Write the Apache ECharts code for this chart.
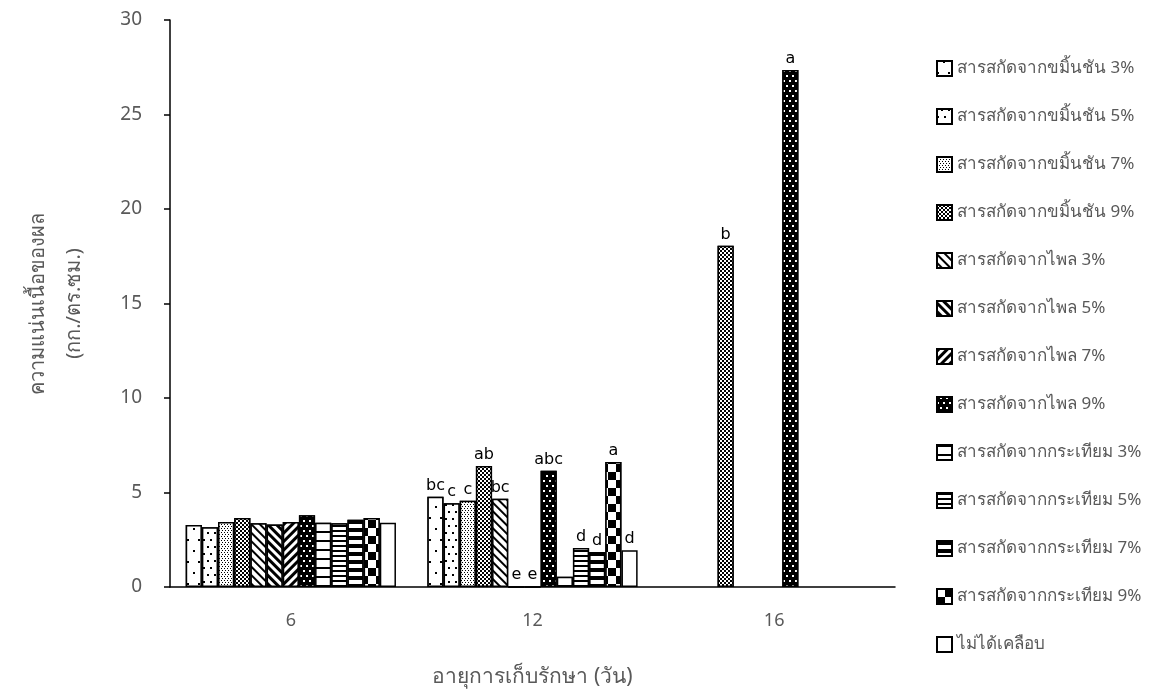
<!DOCTYPE html>
<html>
<head>
<meta charset="utf-8">
<style>
    html, body { margin: 0; padding: 0; background: #fff; }
    #chart { width: 1155px; height: 693px; }
</style>
<script src="https://cdn.jsdelivr.net/npm/echarts@6/dist/echarts.min.js"></script>
</head>
<body>
<div id="chart"></div>
<script>
    // ข้อมูลของกราฟ
    var categories = ['6', '12', '16'];
    var seriesNames = [
        'สารสกัดจากขมิ้นชัน 3%', 'สารสกัดจากขมิ้นชัน 5%', 'สารสกัดจากขมิ้นชัน 7%', 'สารสกัดจากขมิ้นชัน 9%',
        'สารสกัดจากไพล 3%', 'สารสกัดจากไพล 5%', 'สารสกัดจากไพล 7%', 'สารสกัดจากไพล 9%',
        'สารสกัดจากกระเทียม 3%', 'สารสกัดจากกระเทียม 5%', 'สารสกัดจากกระเทียม 7%', 'สารสกัดจากกระเทียม 9%',
        'ไม่ได้เคลือบ'
    ];
    var turmeric3 = [3.28, 4.78, null];
    var turmeric5 = [3.16, 4.43, null];
    var turmeric7 = [3.44, 4.57, null];
    var turmeric9 = [3.65, 6.40, 18.05];
    var plai3 = [3.37, 4.67, null];
    var plai5 = [3.31, 0, null];
    var plai7 = [3.44, 0, null];
    var plai9 = [3.79, 6.15, 27.35];
    var garlic3 = [3.40, 0.54, null];
    var garlic5 = [3.37, 2.06, null];
    var garlic7 = [3.56, 1.85, null];
    var garlic9 = [3.65, 6.61, null];
    var uncoated = [3.40, 1.94, null];
    var values = [turmeric3, turmeric5, turmeric7, turmeric9, plai3, plai5, plai7, plai9,
                  garlic3, garlic5, garlic7, garlic9, uncoated];

    // ตัวอักษรแสดงความแตกต่างทางสถิติ
    var letters = [
        ['', 'bc', ''], ['', 'c', ''], ['', 'c', ''], ['', 'ab', 'b'],
        ['', 'bc', ''], ['', 'e', ''], ['', 'e', ''], ['', 'abc', 'a'],
        ['', '', ''], ['', 'd', ''], ['', 'd', ''], ['', 'a', ''],
        ['', 'd', '']
    ];
    var yTicks = [0, 5, 10, 15, 20, 25, 30];

    // ลวดลายของแต่ละแท่ง
    var d45 = Math.PI / 4;
    var decals = [
        { color: '#000', backgroundColor: '#fff', dashArrayX: [[2, 9], [0, 6, 2, 3]], dashArrayY: [2, 9] },
        { color: '#000', backgroundColor: '#fff', dashArrayX: [[2, 5], [0, 4, 2, 1]], dashArrayY: [2, 5] },
        { color: '#000', backgroundColor: '#fff', dashArrayX: [[1, 2], [0, 2, 1, 0]], dashArrayY: [1, 1] },
        { color: '#000', backgroundColor: '#fff', dashArrayX: [[2, 2], [0, 2, 2, 0]], dashArrayY: [2, 0] },
        { color: '#000', backgroundColor: '#fff', dashArrayX: [1, 0], dashArrayY: [1.5, 3.5], rotation: d45 },
        { color: '#000', backgroundColor: '#fff', dashArrayX: [1, 0], dashArrayY: [3, 3], rotation: d45 },
        { color: '#000', backgroundColor: '#fff', dashArrayX: [1, 0], dashArrayY: [3, 3], rotation: -d45 },
        { color: '#fff', backgroundColor: '#000', dashArrayX: [[2, 4], [0, 3, 2, 1]], dashArrayY: [2, 3] },
        { color: '#000', backgroundColor: '#fff', dashArrayX: [1, 0], dashArrayY: [2, 7] },
        { color: '#000', backgroundColor: '#fff', dashArrayX: [1, 0], dashArrayY: [1.5, 2.5] },
        { color: '#000', backgroundColor: '#fff', dashArrayX: [1, 0], dashArrayY: [3.5, 4] },
        { color: '#000', backgroundColor: '#fff', dashArrayX: [[8, 8], [0, 8, 8, 0]], dashArrayY: [8, 0] },
        null
    ];

    var txtFont = "'Noto Sans', 'DejaVu Sans', sans-serif";

    var series = [];
    for (var i = 0; i < seriesNames.length; i++) {
        var data = [];
        for (var j = 0; j < categories.length; j++) {
            var item = { value: values[i][j] };
            if (letters[i][j]) {
                item.label = { show: true, formatter: letters[i][j] };
            }
            data.push(item);
        }
        var itemStyle = { color: '#fff', borderColor: '#000', borderWidth: 1.5 };
        if (decals[i]) itemStyle.decal = decals[i];
        series.push({
            name: seriesNames[i],
            type: 'bar',
            barGap: '0%',
            barCategoryGap: '13%',
            itemStyle: itemStyle,
            label: {
                show: false,
                position: 'top',
                distance: 3,
                color: '#000',
                fontSize: 16,
                fontFamily: "'DejaVu Sans', sans-serif"
            },
            data: data
        });
    }

    var myChart = echarts.init(document.getElementById('chart'));
    myChart.setOption({
        animation: false,
        grid: { left: 170, right: 260, top: 20, bottom: 106 },
        legend: {
            orient: 'vertical',
            left: 931,
            top: 55,
            itemWidth: 15,
            itemHeight: 15,
            itemGap: 31,
            icon: 'rect',
            data: seriesNames,
            itemStyle: { borderWidth: 2 },
            textStyle: { color: '#595959', fontSize: 17, fontFamily: txtFont }
        },
        xAxis: {
            type: 'category',
            data: categories,
            axisLine: { lineStyle: { color: '#000', width: 1.5 } },
            axisTick: { show: false },
            axisLabel: { color: '#595959', fontSize: 18, margin: 25, fontFamily: txtFont },
            name: 'อายุการเก็บรักษา (วัน)',
            nameLocation: 'middle',
            nameGap: 80,
            nameTextStyle: { color: '#595959', fontSize: 21, fontFamily: txtFont }
        },
        yAxis: {
            type: 'value',
            min: yTicks[0],
            max: yTicks[yTicks.length - 1],
            interval: 5,
            splitLine: { show: false },
            axisLine: { show: true, lineStyle: { color: '#000', width: 1.5 } },
            axisTick: { show: true, length: 6, lineStyle: { color: '#000', width: 1.5 } },
            axisLabel: { color: '#595959', fontSize: 19, margin: 28, fontFamily: txtFont },
            name: 'ความแน่นเนื้อของผล\n(กก./ตร.ซม.)',
            nameLocation: 'middle',
            nameGap: 78,
            nameTextStyle: { color: '#595959', fontSize: 20, lineHeight: 36, fontFamily: txtFont }
        },
        series: series
    });
</script>
</body>
</html>
